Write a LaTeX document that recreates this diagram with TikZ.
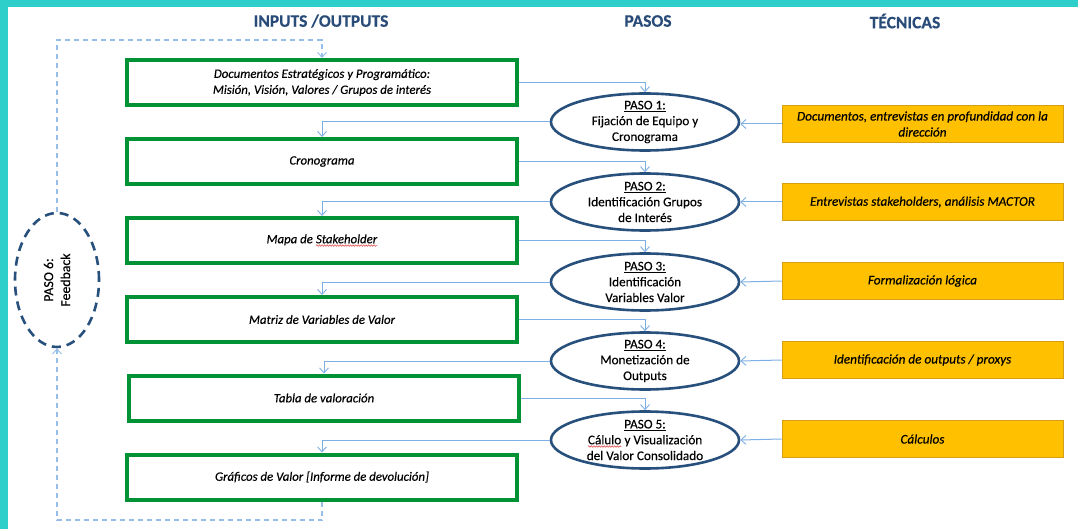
\documentclass[tikz,border=0pt]{standalone}
\usepackage{fontspec}
\setmainfont{Carlito}[FakeBold=0.35]
\usetikzlibrary{arrows.meta,shapes.geometric,calc,decorations.pathmorphing}
\definecolor{frameteal}{RGB}{46,207,202}
\definecolor{boxgreen}{RGB}{0,146,52}
\definecolor{ellblue}{RGB}{40,80,125}
\definecolor{connblue}{RGB}{125,175,228}
\definecolor{dashblue}{RGB}{150,190,232}
\definecolor{techfill}{RGB}{255,192,0}
\definecolor{techdraw}{RGB}{214,160,20}
\definecolor{headblue}{RGB}{40,75,120}
\definecolor{waveRed}{RGB}{225,60,60}
\newcommand{\spellwave}[1]{\tikz[baseline=(sw.base),x=1pt,y=1pt]{\node[inner sep=0pt,outer sep=0pt,minimum width=0pt,minimum height=0pt,draw=none,fill=none,line width=0.4pt] (sw) {#1};\draw[waveRed, line width=0.5pt, decorate, decoration={snake, amplitude=0.8pt, segment length=2.6pt}] ([yshift=-2.2pt]sw.south west) -- ([yshift=-2.2pt]sw.south east);}}
\tikzset{
  gbox/.style={draw=boxgreen, line width=4pt, minimum width=390, minimum height=45, inner sep=0pt, align=center, font=\fontsize{12.8}{16}\selectfont\itshape},
  pstep/.style={ellipse, draw=ellblue, line width=2.6pt, minimum width=188, minimum height=57, inner sep=0pt},
  ptext/.style={align=center, font=\fontsize{13.2}{15.8}\selectfont},
  tbox/.style={fill=techfill, draw=techdraw, line width=1pt, minimum width=281, minimum height=37, inner sep=0pt, align=center, font=\fontsize{13.2}{16}\selectfont\itshape},
  conn/.style={draw=connblue, line width=1pt, -{Straight Barb[length=5pt,width=9pt,line width=0.9pt]}},
  dconn/.style={draw=dashblue, line width=1.2pt, dash pattern=on 5pt off 4pt, -{Straight Barb[length=5pt,width=9pt,line width=0.9pt]}},
  head/.style={font=\fontsize{17.5}{19}\selectfont\bfseries, text=headblue},
  fbtext/.style={align=center, font=\fontsize{13.8}{17}\selectfont},
  fbstep/.style={ellipse, draw=ellblue, line width=2.6pt, dash pattern=on 9pt off 6pt, minimum width=84, minimum height=134, inner sep=0pt}
}
\begin{document}
\begin{tikzpicture}[x=1pt,y=-1pt]
\useasboundingbox (0,0) rectangle (1078,529);
\fill[frameteal] (0,0) rectangle (1078,7.5);
\fill[frameteal] (0,0) rectangle (8,529);

% headers
\node[head] (h1) at (321,21) {INPUTS /OUTPUTS};
\node[head] (h2) at (648,21) {PASOS};
\node[head] (h3) at (905,21) {TÉCNICAS};

% input/output boxes
\node[gbox] (b1) at (322,82.5) {Documentos Estratégicos y Programático:\\Misión, Visión, Valores / Grupos de interés};
\node[gbox] (b2) at (322,161.5) {Cronograma};
\node[gbox] (b3) at (322,240.5) {Mapa de \spellwave{Stakeholder}};
\node[gbox] (b4) at (322,319.5) {Matriz de Variables de Valor};
\node[gbox] (b5) at (324,398) {Tabla de valoración};
\node[gbox] (b6) at (322,477) {Gráficos de Valor [Informe de devolución]};

% steps
\node[pstep] (e1) at (645,122) {};
\node[pstep] (e2) at (645,202) {};
\node[pstep] (e3) at (645,282) {};
\node[pstep] (e4) at (645,361) {};
\node[pstep] (e5) at (645,440) {};
\node[ptext] (t1) at (e1.center) {\underline{PASO 1:}\\Fijación de Equipo y\\Cronograma};
\node[ptext] (t2) at (e2.center) {\underline{PASO 2:}\\Identificación Grupos\\de Interés};
\node[ptext] (t3) at (e3.center) {\underline{PASO 3:}\\Identificación\\Variables Valor};
\node[ptext] (t4) at (e4.center) {\underline{PASO 4:}\\Monetización de\\Outputs};
\node[ptext] (t5) at (e5.center) {\underline{PASO 5:}\\\spellwave{Cálulo} y Visualización\\del Valor Consolidado};

% techniques
\node[tbox] (y1) at (922.5,124) {Documentos, entrevistas en profundidad con la\\dirección};
\node[tbox] (y2) at (922.5,202) {Entrevistas stakeholders, análisis MACTOR};
\node[tbox] (y3) at (922.5,281) {Formalización lógica};
\node[tbox] (y4) at (922.5,360) {Identificación de outputs / proxys};
\node[tbox] (y5) at (922.5,439) {Cálculos};

% feedback
\node[fbstep] (fb) at (57,280) {};
\node[fbtext, rotate=90] (fbt) at (fb.center) {PASO 6:\\Feedback};

% connectors box -> step
\draw[conn] (b1.east) -| (e1.north);
\draw[conn] (b2.east) -| (e2.north);
\draw[conn] (b3.east) -| (e3.north);
\draw[conn] (b4.east) -| (e4.north);
\draw[conn] (b5.east) -| (e5.north);
% step -> next box
\draw[conn] (e1.west) -| (b2.north);
\draw[conn] (e2.west) -| (b3.north);
\draw[conn] (e3.west) -| (b4.north);
\draw[conn] (e4.west) -| (b5.north);
\draw[conn] (e5.west) -| (b6.north);
% technique -> step
\draw[conn] (y1.west) -- (y1.west -| e1.east);
\draw[conn] (y2.west) -- (e2.east);
\draw[conn] (y3.west) -- (e3.east);
\draw[conn] (y4.west) -- (e4.east);
\draw[conn] (y5.west) -- (e5.east);

% feedback loop
\coordinate (cb) at (322,520);
\coordinate (ct) at (57,40);
\draw[dconn] (b6.south) -- (cb) -| (fb.south);
\draw[dconn] (fb.north) -- (ct) -| (b1.north);
\end{tikzpicture}
\end{document}
